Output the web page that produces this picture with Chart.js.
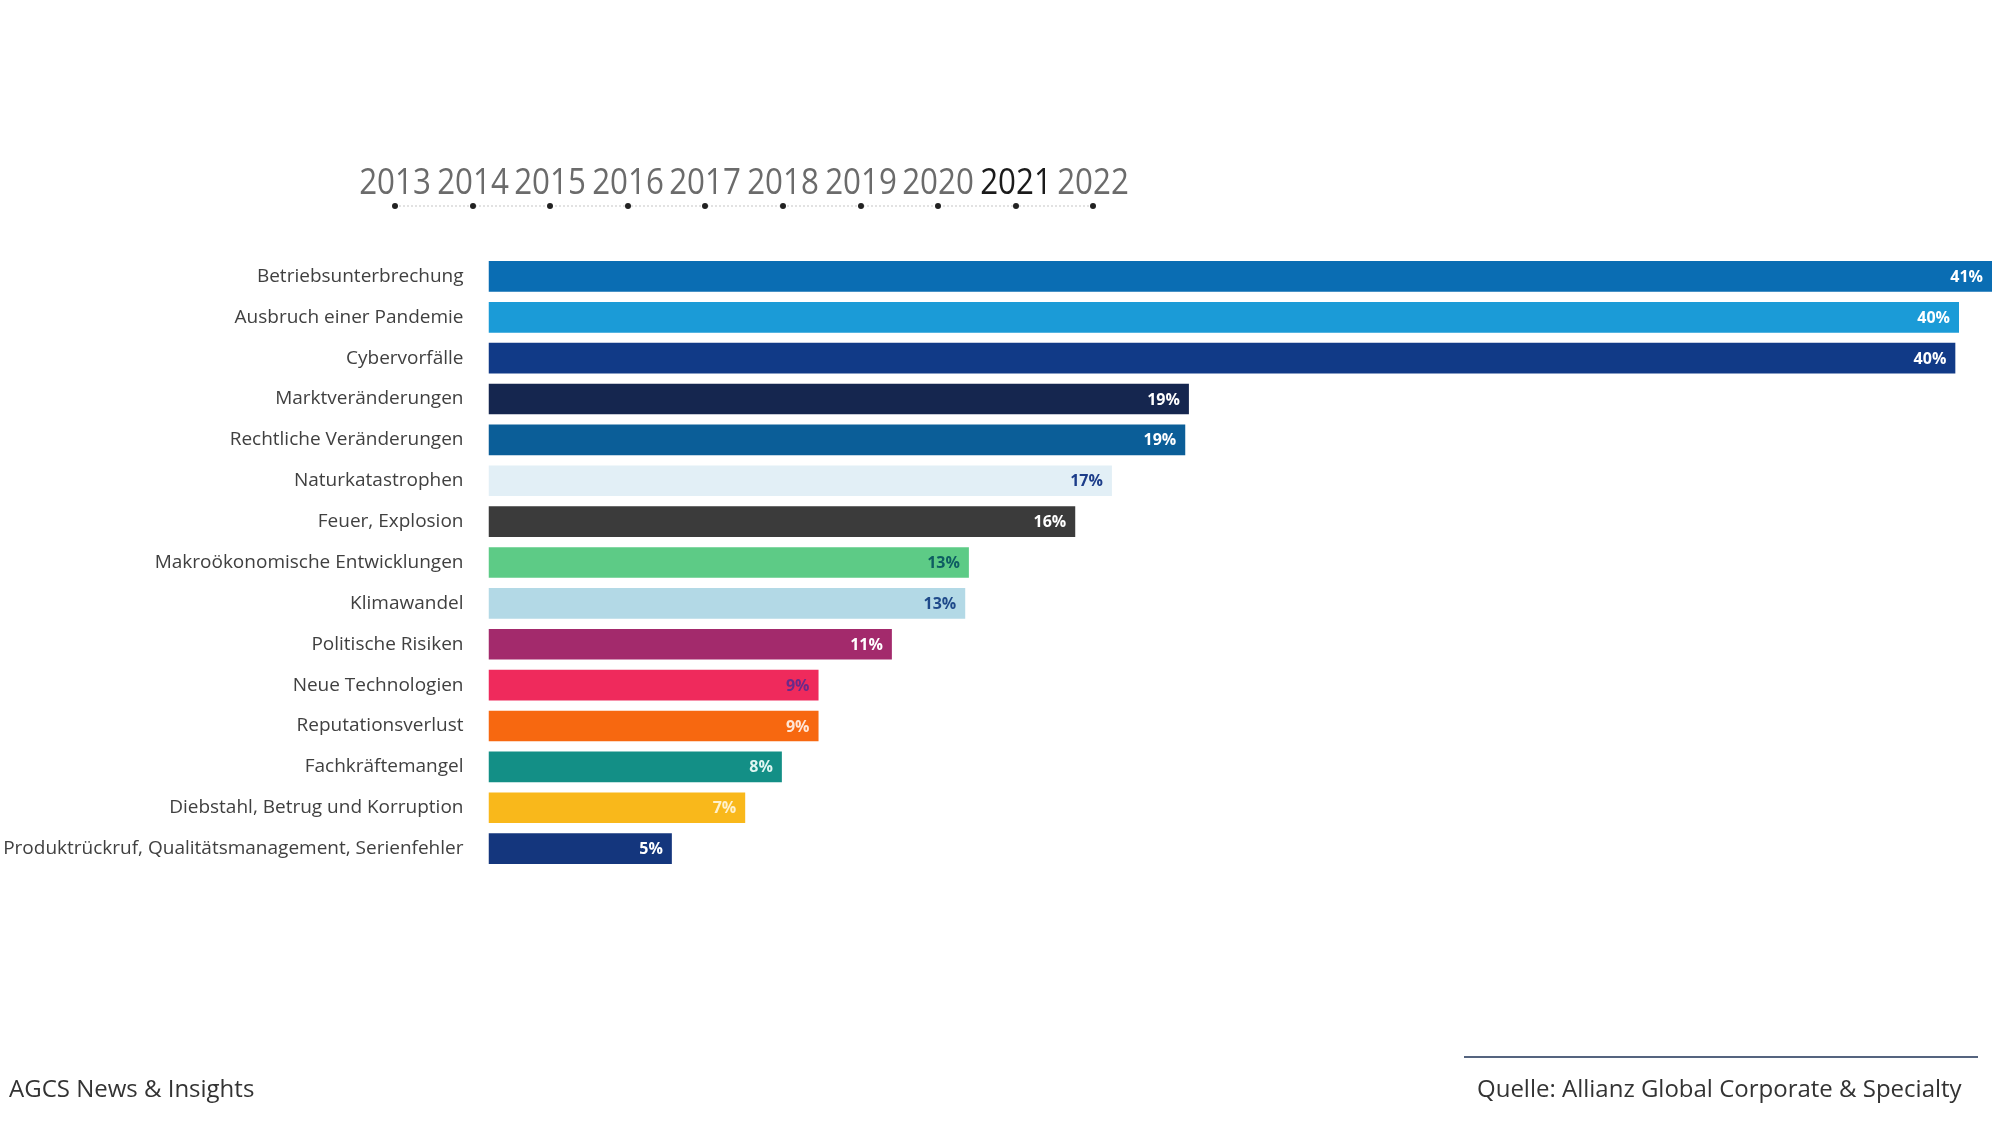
<!DOCTYPE html>
<html>
<head>
<meta charset="utf-8">
<script src="https://cdn.jsdelivr.net/npm/chart.js@4"></script>
<style>
  html, body { margin: 0; padding: 0; background: #ffffff; }
  #wrap { position: relative; width: 2000px; height: 1125px; overflow: hidden; font-family: "Open Sans", "Noto Sans", sans-serif; }
  #chart { position: absolute; left: 0; top: 0; }
  .year { position: absolute; top: 160px; transform: translateX(-50%) scaleX(0.87); font-family: "Open Sans", sans-serif; font-size: 36px; line-height: 42px; color: #6b6b6b; white-space: nowrap; }
  .year.active { color: #1a1a1a; }
  .dot { position: absolute; width: 6px; height: 6px; border-radius: 50%; background: #222; transform: translate(-50%, -50%); top: 206px; }
  #tl { position: absolute; top: 205px; height: 0; border-top: 2px dotted #e2e2e2; }
  #footL { position: absolute; left: 9px; top: 1071px; font-size: 24px; color: #333; white-space: nowrap; }
  #footR { position: absolute; left: 1477px; top: 1071px; font-size: 24px; color: #333; white-space: nowrap; }
  #footLine { position: absolute; left: 1464px; top: 1056px; width: 514px; height: 2px; background: #55647f; }
</style>
</head>
<body>
<div id="wrap">
  <canvas id="chart" width="2000" height="1125"></canvas>
  <div id="tl"></div>
  <div id="footL">AGCS News &amp; Insights</div>
  <div id="footLine"></div>
  <div id="footR">Quelle: Allianz Global Corporate &amp; Specialty</div>
</div>
<script>
const categories = [
  "Betriebsunterbrechung",
  "Ausbruch einer Pandemie",
  "Cybervorfälle",
  "Marktveränderungen",
  "Rechtliche Veränderungen",
  "Naturkatastrophen",
  "Feuer, Explosion",
  "Makroökonomische Entwicklungen",
  "Klimawandel",
  "Politische Risiken",
  "Neue Technologien",
  "Reputationsverlust",
  "Fachkräftemangel",
  "Diebstahl, Betrug und Korruption",
  "Produktrückruf, Qualitätsmanagement, Serienfehler"
];
const values = [41, 40.1, 40, 19.1, 19, 17, 16, 13.1, 13, 11, 9, 9, 8, 7, 5];
const valueLabels = ["41%", "40%", "40%", "19%", "19%", "17%", "16%", "13%", "13%", "11%", "9%", "9%", "8%", "7%", "5%"];
const barColors = [
  "#0a6db3", "#1b9bd7", "#113a87", "#15264f", "#0b5e98",
  "#e2eff6", "#3b3b3b", "#5dcb86", "#b3d9e6", "#a32a6c",
  "#ef2a5c", "#f76810", "#138f86", "#f9b81b", "#14367d"
];
const labelColors = [
  "#ffffff", "#ffffff", "#ffffff", "#ffffff", "#ffffff",
  "#1c3d8a", "#ffffff", "#0e5d62", "#1f4a8a", "#ffffff",
  "#6a2a8a", "#ffe6d6", "#dff5f1", "#fff1cc", "#ffffff"
];
const years = ["2013", "2014", "2015", "2016", "2017", "2018", "2019", "2020", "2021", "2022"];
const activeYear = "2021";

// timeline (years header)
(function () {
  const wrap = document.getElementById('wrap');
  const x0 = 395, step = 77.6;
  years.forEach((y, i) => {
    const x = x0 + i * step;
    const s = document.createElement('div');
    s.className = 'year' + (y === activeYear ? ' active' : '');
    s.style.left = x + 'px';
    s.textContent = y;
    wrap.appendChild(s);
    const d = document.createElement('div');
    d.className = 'dot';
    d.style.left = x + 'px';
    wrap.appendChild(d);
  });
  const tl = document.getElementById('tl');
  tl.style.left = x0 + 'px';
  tl.style.width = ((years.length - 1) * step) + 'px';
})();

const valueLabelPlugin = {
  id: 'valueLabels',
  afterDatasetsDraw(chart) {
    const ctx = chart.ctx;
    const meta = chart.getDatasetMeta(0);
    ctx.save();
    ctx.font = 'bold 16px "Open Sans", sans-serif';
    ctx.textAlign = 'right';
    ctx.textBaseline = 'middle';
    meta.data.forEach((bar, i) => {
      ctx.fillStyle = labelColors[i];
      ctx.fillText(valueLabels[i], bar.x - 9, bar.y + 1);
    });
    ctx.restore();
  }
};

new Chart(document.getElementById('chart'), {
  type: 'bar',
  data: {
    labels: categories,
    datasets: [{
      data: values,
      backgroundColor: barColors,
      borderWidth: 0,
      categoryPercentage: 1,
      barPercentage: 0.75
    }]
  },
  options: {
    indexAxis: 'y',
    responsive: false,
    animation: false,
    layout: { padding: { top: 256, bottom: 256, right: 8, left: 0 } },
    plugins: { legend: { display: false }, tooltip: { enabled: false } },
    scales: {
      x: { display: false, min: 0, max: 41 },
      y: {
        grid: { display: false },
        border: { display: false },
        ticks: {
          padding: 17,
          color: '#404040',
          font: { family: '"Open Sans", sans-serif', size: 19 }
        },
        afterFit(scale) { scale.width = 488.5; }
      }
    }
  },
  plugins: [valueLabelPlugin]
});
</script>
</body>
</html>
